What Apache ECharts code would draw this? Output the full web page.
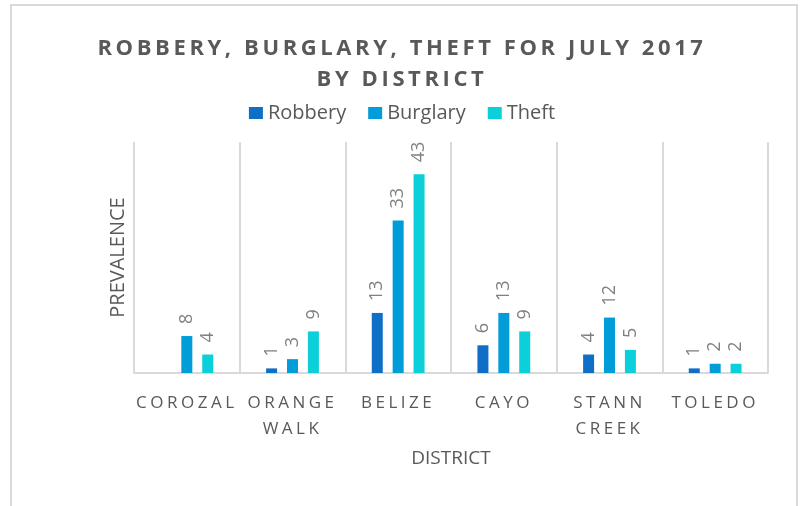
<!DOCTYPE html>
<html>
<head>
<meta charset="utf-8">
<script src="https://cdn.jsdelivr.net/npm/echarts@6/dist/echarts.min.js"></script>
<style>
  html, body { margin: 0; padding: 0; background: #fff; }
  #frame {
    position: absolute; left: 10px; top: 4px; width: 788px; height: 520px;
    border: 2px solid #d9d9d9; box-sizing: border-box;
  }
  #chart { position: absolute; left: 0; top: 0; width: 804px; height: 506px; }
</style>
</head>
<body>
<div id="frame"></div>
<div id="chart"></div>
<script>
// 数据
const districts = ['COROZAL', 'ORANGE WALK', 'BELIZE', 'CAYO', 'STANN CREEK', 'TOLEDO']
const robbery = [0, 1, 13, 6, 4, 1]
const burglary = [8, 3, 33, 13, 12, 2]
const theft = [4, 9, 43, 9, 5, 2]

const seriesList = [
  { name: 'Robbery', data: robbery, color: '#0F6FC6' },
  { name: 'Burglary', data: burglary, color: '#009DD9' },
  { name: 'Theft', data: theft, color: '#0BD0D9' }
]

const textGray = '#595959'
const font = 'Open Sans'

// 标题和X轴标签有字间距，echarts 本身不支持，这里按字体串给 canvas 加 letterSpacing
const spacingByFont = {
  'bold 22px "Open Sans"': '3.6px',
  '17px "Open Sans"': '3.5px'
}
const rawFillText = CanvasRenderingContext2D.prototype.fillText
CanvasRenderingContext2D.prototype.fillText = function (...args) {
  const sp = spacingByFont[this.font.replace(/normal /g, '').trim()]
  this.letterSpacing = sp || '0px'
  return rawFillText.apply(this, args)
}

const myChart = echarts.init(document.getElementById('chart'))

const option = {
  backgroundColor: 'transparent',
  animation: false,
  title: {
    text: 'ROBBERY, BURGLARY, THEFT FOR JULY 2017\nBY DISTRICT',
    left: 'center',
    top: 28,
    textStyle: {
      color: textGray,
      fontFamily: font,
      fontWeight: 'bold',
      fontSize: 22,
      lineHeight: 31
    }
  },
  legend: {
    data: seriesList.map(d => d.name),
    icon: 'rect',
    top: 98,
    left: 'center',
    itemWidth: 14,
    itemHeight: 12,
    itemGap: 22,
    textStyle: { color: textGray, fontFamily: font, fontSize: 20 }
  },
  grid: {
    left: 134,
    right: 36,
    top: 142,
    bottom: 133,
    containLabel: false
  },
  xAxis: {
    type: 'category',
    data: districts,
    boundaryGap: true,
    name: 'DISTRICT',
    nameLocation: 'middle',
    nameGap: 76,
    nameTextStyle: { color: textGray, fontFamily: font, fontSize: 19 },
    axisLine: { lineStyle: { color: '#d9d9d9', width: 2 } },
    axisTick: { show: false },
    splitLine: { show: true, lineStyle: { color: '#d9d9d9', width: 2 } },
    axisLabel: {
      interval: 0,
      margin: 17,
      color: textGray,
      fontFamily: font,
      fontSize: 17,
      lineHeight: 26,
      formatter: v => v.replace(' ', '\n')
    }
  },
  yAxis: {
    type: 'value',
    min: 0,
    max: 50,
    name: 'PREVALENCE',
    nameLocation: 'middle',
    nameGap: 6,
    nameTextStyle: { color: textGray, fontFamily: font, fontSize: 20 },
    axisLine: { show: false },
    axisTick: { show: false },
    axisLabel: { show: false },
    splitLine: { show: false }
  },
  series: seriesList.map(item => ({
    name: item.name,
    type: 'bar',
    data: item.data,
    barWidth: 11,
    barGap: '90%',
    itemStyle: { color: item.color },
    label: {
      show: true,
      position: 'top',
      rotate: 90,
      align: 'left',
      verticalAlign: 'middle',
      distance: 12,
      color: '#808080',
      fontFamily: font,
      fontSize: 18,
      formatter: p => (p.value === 0 ? '' : p.value)
    }
  }))
}

myChart.setOption(option)
</script>
</body>
</html>
